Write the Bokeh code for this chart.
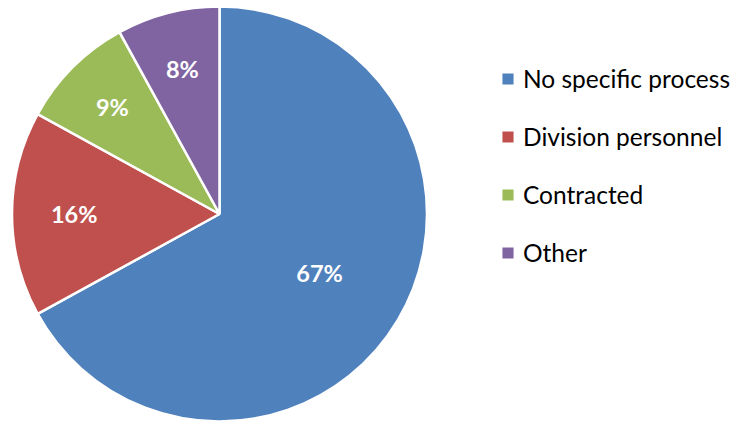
import math
from bokeh.plotting import figure
from bokeh.models import Range1d, Legend, LegendItem, ColumnDataSource
from bokeh.core.properties import value
from bokeh.embed import file_html
from bokeh.resources import INLINE

# ---- data ----
categories = ["No specific process", "Division personnel", "Contracted", "Other"]
shares = [67, 16, 9, 8]
labels = ["67%", "16%", "9%", "8%"]
colors = ["#4F81BD", "#C0504D", "#9BBB59", "#8064A2"]

# ---- style ----
W, H = 730, 424
CX, CY, R = 219, 210.5, 207.5
label_r = [0.56, 0.70, 0.73, 0.72]
FONT = "Lato"

total = sum(shares)
starts, ends, lx, ly = [], [], [], []
a = math.pi / 2
for i, s in enumerate(shares):
    span = 2 * math.pi * s / total
    starts.append(a)
    ends.append(a - span)
    mid = a - span / 2
    lx.append(CX + label_r[i] * R * math.cos(mid))
    ly.append(CY + label_r[i] * R * math.sin(mid))
    a -= span

src = ColumnDataSource(dict(cat=categories, start=starts, end=ends, color=colors,
                            lx=lx, ly=ly, lab=labels))

p = figure(width=W, height=H, output_backend="svg", toolbar_location=None,
           x_range=Range1d(0, W), y_range=Range1d(0, H), min_border=0)
p.axis.visible = False
p.grid.visible = False
p.outline_line_color = None
p.background_fill_color = "white"
p.border_fill_color = "white"

w = p.wedge(x=CX, y=CY, radius=R, start_angle="start", end_angle="end",
            direction="clock", fill_color="color", line_color="white",
            line_width=2.5, source=src)

p.text(x="lx", y="ly", text="lab", source=src, text_color="white",
       text_font=value(FONT), text_font_style="bold", text_font_size="23.5px",
       text_align="center", text_baseline="middle")

items = [LegendItem(label=c, renderers=[w], index=i) for i, c in enumerate(categories)]
legend = Legend(items=items, location=(499, 157), orientation="vertical",
                glyph_width=17, glyph_height=17, label_standoff=7,
                label_height=27, spacing=29, padding=0, margin=0,
                border_line_color=None, background_fill_alpha=0,
                label_text_font=FONT, label_text_font_size="24.5px",
                label_text_color="#000000", label_text_baseline="middle")
p.add_layout(legend, "center")

open("out.html", "w").write(file_html(p, INLINE))
